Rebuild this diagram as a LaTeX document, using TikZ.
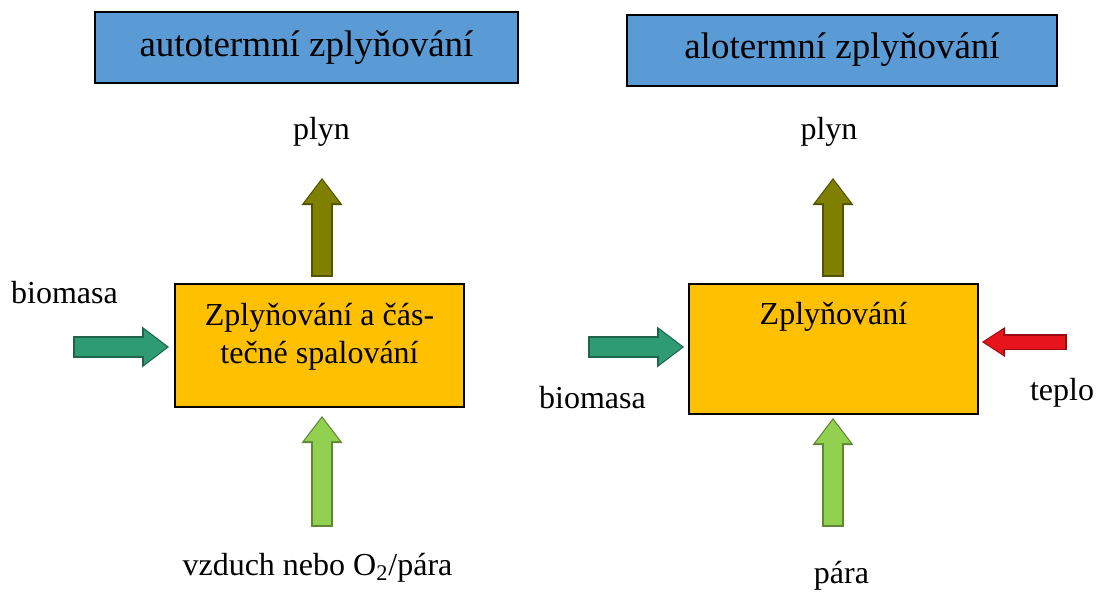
\documentclass[tikz,border=0pt]{standalone}
\usepackage{fontspec}
\setmainfont{Liberation Serif}
\usepackage{tikz}
\usetikzlibrary{arrows.meta,calc}
\definecolor{titleblue}{HTML}{5B9BD5}
\definecolor{boxorange}{HTML}{FFC000}
\definecolor{gasolive}{HTML}{808000}
\definecolor{bioteal}{HTML}{2E9B72}
\definecolor{airlime}{HTML}{92D050}
\definecolor{heatred}{HTML}{E8141C}
\tikzstyle{titlebox} = [draw, line width=1pt, fill=titleblue,
  minimum height=35.5pt, font=\fontsize{18.5}{22}\selectfont]
\tikzstyle{proc} = [draw, line width=1pt, fill=boxorange,
  minimum width=144.5pt, align=center, font=\fontsize{16}{19}\selectfont]
\tikzstyle{lbl} = [anchor=base, font=\fontsize{16}{19}\selectfont]
\tikzstyle{rim} = [draw, line width=11pt, shorten <=0pt, shorten >=0pt,
  -{Triangle[length=13.5pt,width=20.5pt,line width=0pt]}]
\tikzstyle{core} = [line width=9.25pt, shorten <=0.8pt, shorten >=1pt,
  -{Triangle[length=11.5pt,width=17.5pt,line width=0pt]}]
\tikzstyle{flow} = [core, color=#1, preaction={rim, color=#1!65!black}]
\tikzstyle{thinrim} = [draw, line width=8pt, shorten <=0pt, shorten >=0pt,
  -{Triangle[length=11.5pt,width=15pt,line width=0pt]}]
\tikzstyle{thinflow} = [line width=6.5pt, shorten <=0.8pt, shorten >=1pt,
  -{Triangle[length=9.5pt,width=12.5pt,line width=0pt]},
  color=#1, preaction={thinrim, color=#1!65!black}]

\begin{document}
\begin{tikzpicture}[x=0.5pt, y=-0.5pt]
    \useasboundingbox (0,0) rectangle (1098,591);

    \node[titlebox, minimum width=211.5pt] (autoTitle) at (306.5,47.5)
        {autotermní zplyňování};
    \node[titlebox, minimum width=215pt] (aloTitle) at (842,50)
        {alotermní zplyňování};

    \node[proc, minimum height=61.5pt, text height=21pt, text depth=3.5pt]
        (boxL) at (319.5,345.5) {Zplyňování a čás-\\tečné spalování};
    \node[proc, minimum height=65pt, text height=12pt, text depth=37pt]
        (boxR) at (833.5,349) {Zplyňování};

    \node[lbl] (plynL) at (321.5,139) {plyn};
    \node[lbl] (biomasaL) at (64.5,303) {biomasa};
    \node[lbl] (vzduchL) at (317.5,575) {vzduch nebo O\textsubscript{2}/pára};
    \node[lbl] (plynR) at (829,139) {plyn};
    \node[lbl] (biomasaR) at (592.5,408) {biomasa};
    \node[lbl] (teploR) at (1062,400) {teplo};
    \node[lbl] (paraR) at (841.5,583) {pára};

    \coordinate (gasLtip) at (322,178);
    \coordinate (bioLtail) at (73,347);
    \coordinate (airLtail) at (322,527);
    \coordinate (gasRtip) at (833,178);
    \coordinate (bioRtail) at (588,347);
    \coordinate (heatRtail) at (1067,342);
    \coordinate (steamRtail) at (833,527);

    \draw[flow=gasolive] ($(boxL.north -| gasLtip)+(0,3pt)$) -- (gasLtip);
    \draw[flow=bioteal] (bioLtail) -- ($(boxL.west |- bioLtail)+(-2.5pt,0)$);
    \draw[flow=airlime] (airLtail) -- ($(boxL.south -| airLtail)+(0,-4pt)$);

    \draw[flow=gasolive] ($(boxR.north -| gasRtip)+(0,3pt)$) -- (gasRtip);
    \draw[flow=bioteal] (bioRtail) -- ($(boxR.west |- bioRtail)+(-2pt,0)$);
    \draw[thinflow=heatred] (heatRtail) -- ($(boxR.east |- heatRtail)+(1.5pt,0)$);
    \draw[flow=airlime] (steamRtail) -- ($(boxR.south -| steamRtail)+(0,-1.5pt)$);
\end{tikzpicture}
\end{document}
